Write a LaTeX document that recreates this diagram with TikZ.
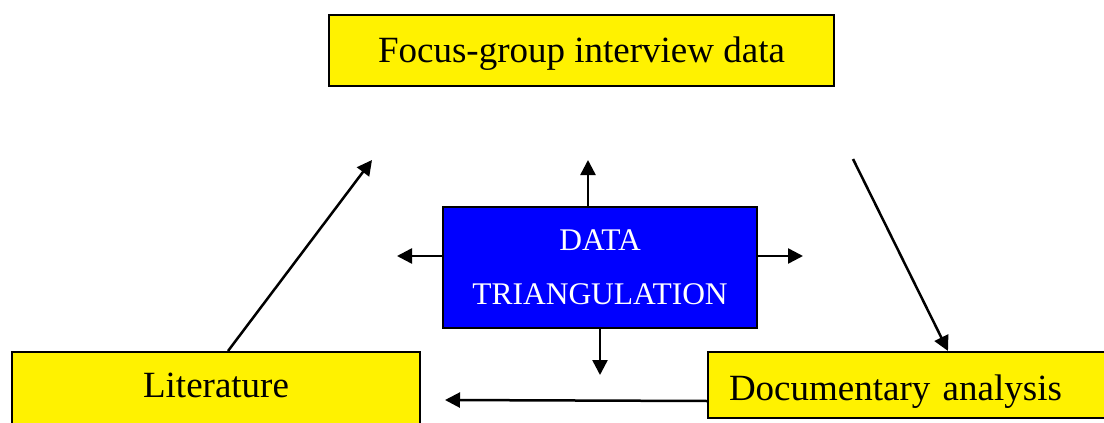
\documentclass[tikz,border=0pt]{standalone}
\usepackage{fontspec}
\setmainfont{Liberation Serif}
\usetikzlibrary{arrows.meta,calc}

\begin{document}
\begin{tikzpicture}[x=1pt,y=1pt,
  box/.style={draw=black,line width=2pt,fill=yellow,inner sep=0pt,
    font=\fontsize{37}{44}\selectfont},
  hub/.style={draw=black,line width=2pt,fill=blue,text=white,inner sep=0pt,
    align=center,minimum width=314pt,minimum height=121pt,
    font=\fontsize{31.5}{54}\selectfont},
  link/.style={line width=2.5pt,-{Triangle[length=15pt,width=15pt]}},
]
\clip (0,0) rectangle (1104,-423);

% sources
\node[box,anchor=base,text height=47pt,text depth=24pt,minimum width=505pt]
  (focus) at (581.5,-62) {Focus-group interview data};
\node[box,anchor=base,text height=45.5pt,text depth=45pt,minimum width=408pt]
  (lit) at (216,-397.5) {Literature};
\node[box,anchor=base west,text height=48pt,text depth=18pt,inner xsep=21pt,
  text width=371pt,align=left]
  (doc) at (707,-400) {Documentary analysis};

% centre
\node[hub] (tri) at (600,-267.5) {DATA\\TRIANGULATION};

% arrows out of the centre
\coordinate (upEnd) at (588,-160);
\draw[link] (tri.north -| upEnd) -- (upEnd);
\coordinate (leftEnd) at (397,-256);
\draw[link] (tri.west |- leftEnd) -- (leftEnd);
\coordinate (rightEnd) at (803,-256);
\draw[link] (tri.east |- rightEnd) -- (rightEnd);
\coordinate (downEnd) at (600,-375);
\draw[link] (tri.south) -- (downEnd);

% cycle between the sources
\coordinate (focusIn) at (372,-160);
\draw[link] ($(lit.north)+(12,0)$) -- (focusIn);
\coordinate (focusOut) at (853,-159);
\draw[link] (focusOut) -- ($(doc.north west)+(241,0)$);
\coordinate (litIn) at (445,-400);
\draw[link] ($(doc.south west)+(0,18)$) -- (litIn);
\end{tikzpicture}
\end{document}
